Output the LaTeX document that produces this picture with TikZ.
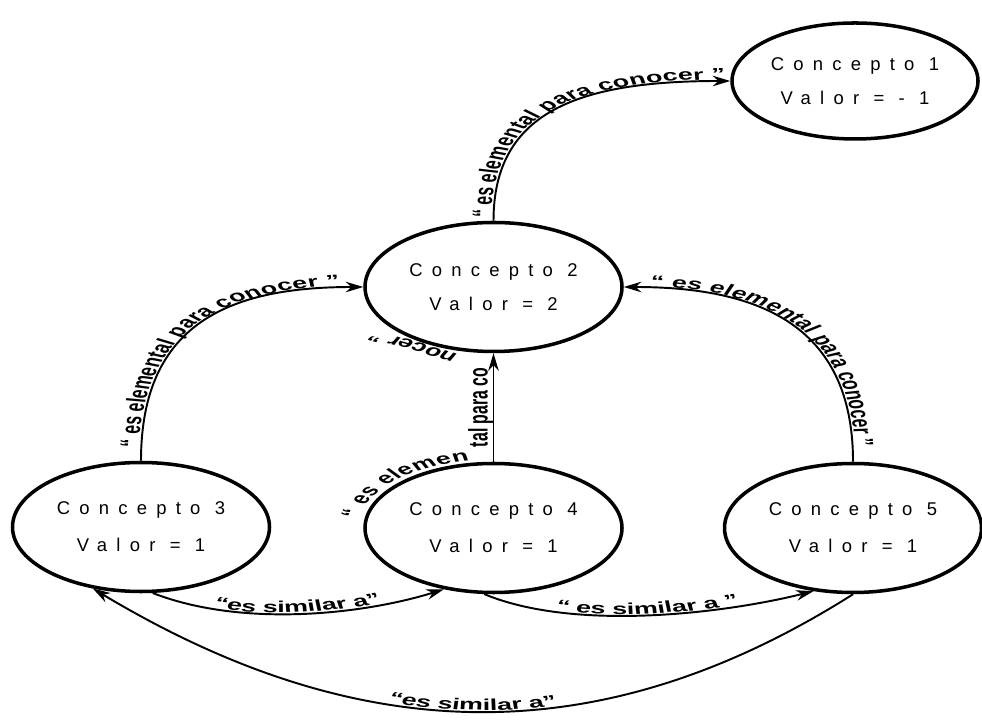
\documentclass[tikz,border=0pt]{standalone}
\usepackage{fontspec}
\setmainfont{Liberation Sans}
\newfontfamily\nodefont[LetterSpace=50]{Liberation Sans}
\newfontfamily\lblfont{Liberation Sans}
\usepackage{tikz}
\usetikzlibrary{shapes.geometric, arrows.meta, decorations.text, calc}
\newcommand{\lblstretch}{1.7}
\newcommand{\lblfmt}{\lblfont\bfseries\fontsize{9pt}{10pt}\selectfont}
\tikzstyle{concept} = [ellipse, draw, line width=2pt, inner sep=0pt, align=center,
  minimum width=5.14cm, minimum height=2.58cm, font=\nodefont\fontsize{10.5pt}{12pt}\selectfont]
\tikzstyle{arrow} = [line width=1.1pt,->,>={Stealth[length=10pt,width=6pt]}]
\tikzset{lbl/.style={decorate, decoration={text along path, text align=center,
  raise=0.8pt, text={|\lblfmt|#1}}}}

\begin{document}
\begin{tikzpicture}
\useasboundingbox (0,0) rectangle (19.64,14.38);

% conceptos
\node[concept, minimum width=4.92cm, minimum height=2.32cm] (c1) at (17.10,12.76) {Concepto 1\\[7pt]Valor = - 1};
\node[concept] (c2) at (9.87,8.64) {Concepto 2\\[7pt]Valor = 2};
\node[concept] (c3) at (2.82,3.84) {Concepto 3\\[9pt]Valor = 1};
\node[concept] (c4) at (9.87,3.82) {Concepto 4\\[9pt]Valor = 1};
\node[concept] (c5) at (17.06,3.82) {Concepto 5\\[9pt]Valor = 1};

% relaciones
\draw[arrow] (c2.north) .. controls +(0,2.2) and +(-3,0) .. (c1.west);
\draw[arrow] (c3.north) .. controls +(0,2.8) and +(-2.6,0) .. (c2.west);
\draw[arrow] (c5.north) .. controls +(0,2.8) and +(2.6,0) .. (c2.east);
\draw[arrow] (c4.north) -- (c2.south);
\draw[arrow] (c3.280) .. controls +(1.8,-0.7) and +(-1.6,-0.5) .. (c4.231);
\draw[arrow] (c4.262) .. controls +(1.8,-0.75) and +(-1.8,-0.45) .. (c5.238);
\draw[arrow,<-] (c3.232) .. controls +(5.2,-3.12) and +(-5.18,-3.28) .. (c5.270);

% etiquetas (texto ensanchado)
\begin{scope}[transform canvas={xscale=\lblstretch}]
\path[lbl={“ es elemental para conocer ”}] let \p1=(c2.north), \p2=(c1.west) in
  ({\x1/\lblstretch},\y1) .. controls +(0,2.2) and +({-3/\lblstretch},0) .. ({\x2/\lblstretch},\y2);
\path[lbl={“ es elemental para conocer ”}] let \p1=(c3.north), \p2=(c2.west) in
  ({\x1/\lblstretch},\y1) .. controls +(0,2.8) and +({-2.6/\lblstretch},0) .. ({\x2/\lblstretch},\y2);
\path[lbl={“ es elemental para conocer ”}] let \p1=(c2.east), \p2=(c5.north) in
  ({\x1/\lblstretch},\y1) .. controls +({2.6/\lblstretch},0) and +(0,2.8) .. ({\x2/\lblstretch},\y2);
\path[lbl={“ es elemen}, decoration={text align=right, raise=2pt}] let \p1=(c4.center) in
  ({\x1/\lblstretch+2.6cm/\lblstretch*cos(185)},{\y1+1.3cm*sin(185)})
  arc[start angle=185, end angle=100, x radius={2.6/\lblstretch}, y radius=1.3];
\path[lbl={tal para co}, decoration={raise=2pt}] let \p1=(c4.north), \p2=(c2.south) in
  ({\x1/\lblstretch},\y1) -- ({\x2/\lblstretch},\y2);
\path[lbl={nocer ”}, decoration={text align=left}] let \p1=(c2.south) in
  ({\x1/\lblstretch-0.4cm},\y1) -- +(-1.1,0.55);
\path[lbl={“es similar a”}] let \p1=(c3.280), \p2=(c4.231) in
  ({\x1/\lblstretch},\y1) .. controls +({1.8/\lblstretch},-0.7) and +({-1.6/\lblstretch},-0.5) .. ({\x2/\lblstretch},\y2);
\path[lbl={“ es similar a ”}] let \p1=(c4.262), \p2=(c5.238) in
  ({\x1/\lblstretch},\y1) .. controls +({1.8/\lblstretch},-0.75) and +({-1.8/\lblstretch},-0.45) .. ({\x2/\lblstretch},\y2);
\path[lbl={“es similar a”}] let \p1=(c3.232), \p2=(c5.270) in
  ({\x1/\lblstretch},\y1) .. controls +({5.2/\lblstretch},-3.12) and +({-5.18/\lblstretch},-3.28) .. ({\x2/\lblstretch},\y2);
\end{scope}
\end{tikzpicture}
\end{document}
